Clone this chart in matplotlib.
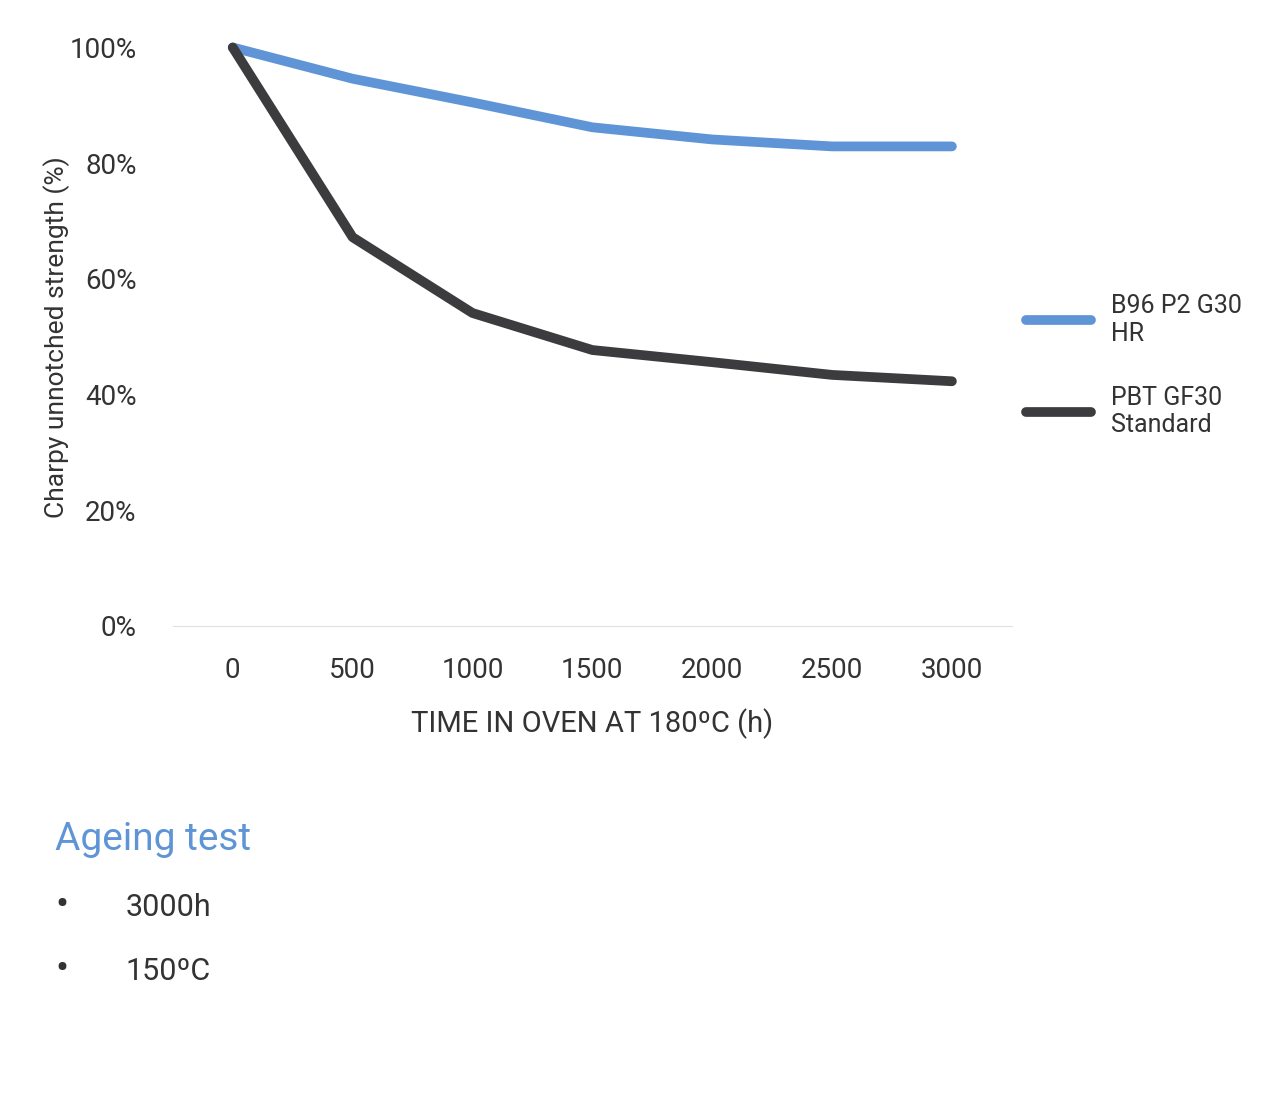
import matplotlib
matplotlib.use("Agg")
import matplotlib.pyplot as plt

hours = [0, 500, 1000, 1500, 2000, 2500, 3000]
b96 = [100, 94.6, 90.5, 86.2, 84.1, 82.9, 82.9]
pbt = [100, 67.2, 54.1, 47.7, 45.6, 43.4, 42.3]
yticks = [0, 20, 40, 60, 80, 100]

plt.rcParams["font.family"] = "Roboto"
fig = plt.figure(figsize=(12.8, 11.04), dpi=100)
ax = fig.add_axes([0.135, 0.433, 0.6555, 0.524])
blue = "#5f95d6"; dark = "#3c3c3e"
ax.plot(hours, b96, color=blue, lw=7, solid_capstyle="round", clip_on=False, label="B96 P2 G30\nHR")
ax.plot(hours, pbt, color=dark, lw=7, solid_capstyle="round", clip_on=False, label="PBT GF30\nStandard")
ax.set_xlim(-250, 3250); ax.set_ylim(0, 100)
ax.set_xticks(hours); ax.set_xticklabels([str(h) for h in hours])
ax.set_yticks(yticks); ax.set_yticklabels([f"{v}%" for v in yticks])
for s in ["top", "right", "left"]:
    ax.spines[s].set_visible(False)
ax.spines["bottom"].set_color("#e0e0e0")
ax.tick_params(length=0, labelsize=20, colors="#333333", pad=22)
ax.tick_params(axis="y", pad=26)
ax.set_xlabel("TIME IN OVEN AT 180ºC (h)", fontsize=21, color="#333333", labelpad=18)
ax.set_ylabel("Charpy unnotched strength (%)", fontsize=19, color="#333333", labelpad=14)
ax.yaxis.set_label_coords(-0.122, 0.5)
leg = ax.legend(loc="center left", bbox_to_anchor=(0.99, 0.45), frameon=False, fontsize=18,
                handlelength=2.6, handletextpad=0.8, labelspacing=1.6, labelcolor="#333333")
fig.text(0.043, 0.23, "Ageing test", fontsize=28, color=blue)
fig.text(0.043, 0.17, "•", fontsize=28, color="#333333")
fig.text(0.098, 0.17, "3000h", fontsize=22, color="#333333")
fig.text(0.043, 0.112, "•", fontsize=28, color="#333333")
fig.text(0.098, 0.112, "150ºC", fontsize=22, color="#333333")
fig.savefig("out.png", dpi=100, facecolor="white")
